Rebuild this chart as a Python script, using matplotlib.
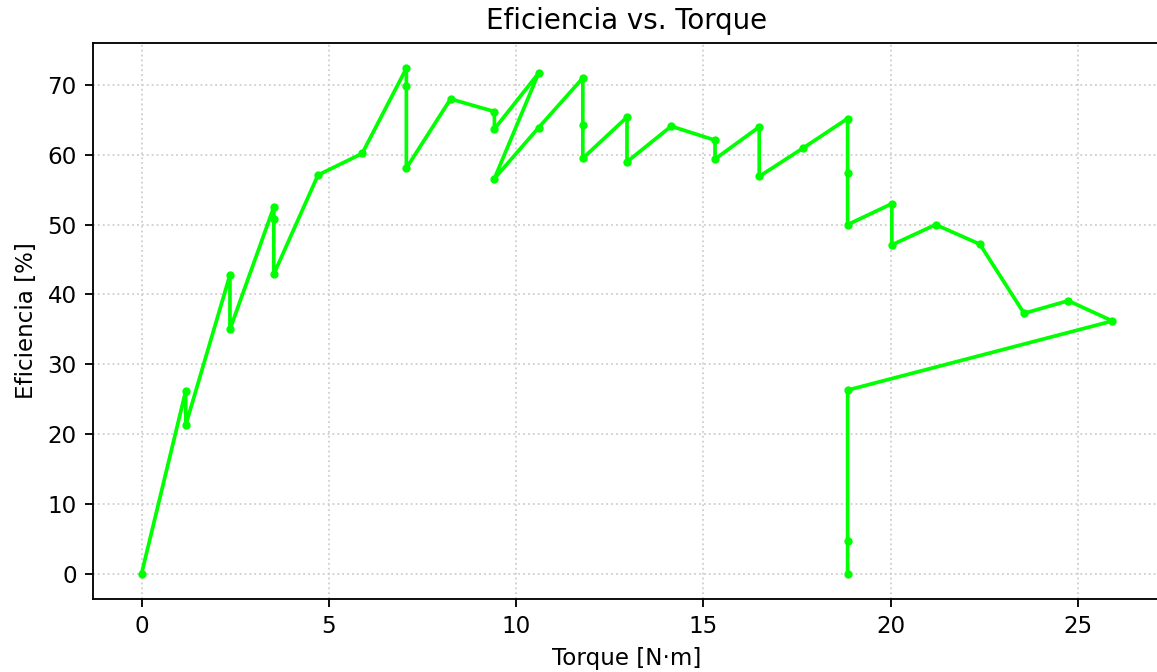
import matplotlib
matplotlib.use("Agg")
import matplotlib.pyplot as plt

# Torque [N·m] y eficiencia [%]
torque = [0, 1.18, 1.18, 2.36, 2.36, 3.53, 3.53, 3.53, 4.71, 5.89,
          7.07, 7.07, 7.07, 8.25, 9.42, 9.42, 10.60, 9.42, 10.60, 11.78,
          11.78, 11.78, 12.96, 12.96, 14.14, 15.31, 15.31, 16.49, 16.49, 17.67,
          18.85, 18.85, 18.85, 20.03, 20.03, 21.20, 22.38, 23.56, 24.74, 25.92,
          18.85, 18.85, 18.85]
eficiencia = [0, 26.2, 21.3, 42.8, 35.0, 52.5, 50.8, 42.9, 57.1, 60.2,
              72.4, 69.8, 58.1, 68.0, 66.2, 63.7, 71.7, 56.6, 63.9, 71.0,
              64.3, 59.5, 65.4, 59.0, 64.1, 62.1, 59.4, 64.0, 56.9, 61.0,
              65.2, 57.4, 50.0, 53.0, 47.1, 50.0, 47.2, 37.3, 39.1, 36.2,
              26.3, 4.75, 0]

fig = plt.figure(figsize=(1157 / 166, 672 / 166), dpi=166)
ax = fig.add_axes([93 / 1157, 1 - 599 / 672, (1161 - 93) / 1157, (599 - 43) / 672])

ax.plot(torque, eficiencia, color="#00ff00", linewidth=1.6, marker="o", markersize=2.6)
ax.set_title("Eficiencia vs. Torque")
ax.set_xlabel("Torque [N·m]")
ax.set_ylabel("Eficiencia [%]")
ax.grid(True, linestyle=":", color="#d0d0d0")

fig.savefig("out.png", dpi=166)
